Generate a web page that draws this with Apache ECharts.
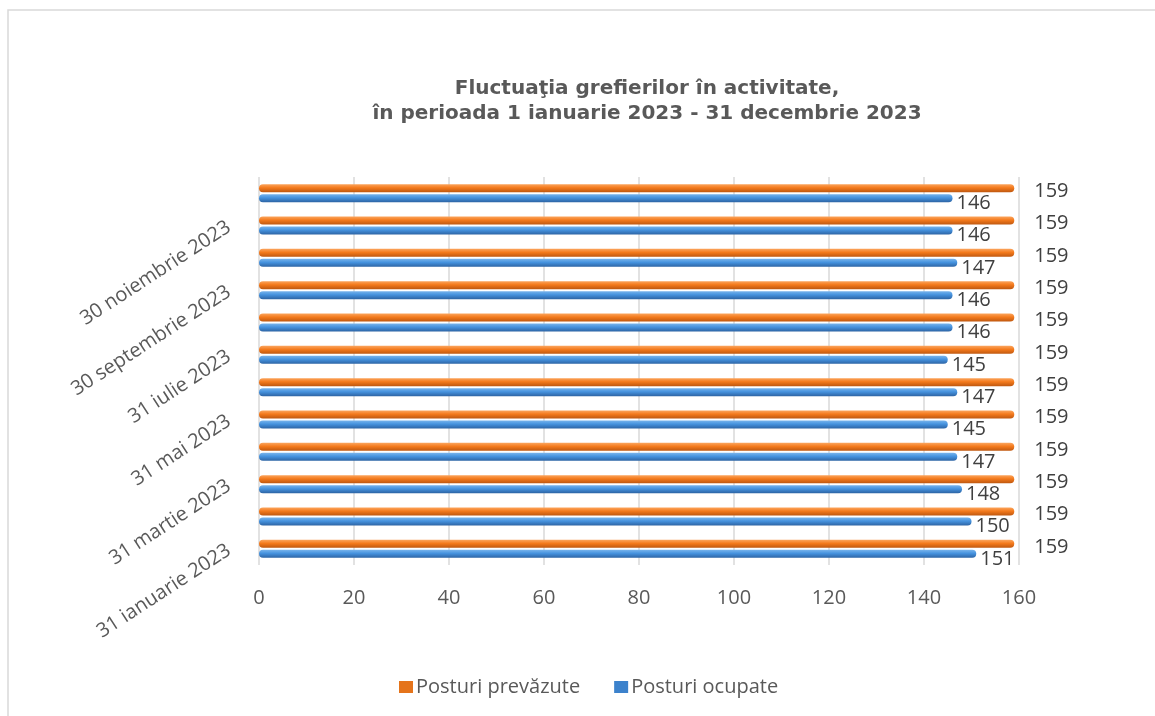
<!DOCTYPE html>
<html>
<head>
<meta charset="utf-8">
<script src="https://cdn.jsdelivr.net/npm/echarts@6/dist/echarts.min.js"></script>
<style>
html,body{margin:0;padding:0;background:#fff;}
#c{width:1155px;height:716px;}
</style>
</head>
<body>
<div id="c"></div>
<script>
const categories = ["31 ianuarie 2023","28 februarie 2023","31 martie 2023","30 aprilie 2023","31 mai 2023","30 iunie 2023","31 iulie 2023","31 august 2023","30 septembrie 2023","31 octombrie 2023","30 noiembrie 2023","31 decembrie 2023"];
const posturiOcupate = [151,150,148,147,145,147,145,146,146,147,146,146];
const posturiPrevazute = [159,159,159,159,159,159,159,159,159,159,159,159];
const xTicks = {min:0, max:160, interval:20};
const titleLines = ["Fluctuaţia grefierilor în activitate,", "în perioada 1 ianuarie 2023 - 31 decembrie 2023"];
const seriesNames = ["Posturi prevăzute", "Posturi ocupate"];

const chart = echarts.init(document.getElementById('c'));
const orangeGrad = new echarts.graphic.LinearGradient(0,0,0,1,[
  {offset:0,color:'#FBA55E'},{offset:0.45,color:'#F47A1C'},{offset:1,color:'#BF5810'}]);
const blueGrad = new echarts.graphic.LinearGradient(0,0,0,1,[
  {offset:0,color:'#78B4EC'},{offset:0.45,color:'#4592DE'},{offset:1,color:'#2D64A4'}]);
const txt = '#595959';
chart.setOption({
  animation:false,
  backgroundColor:'#fff',
  graphic:[{type:'rect',shape:{x:8,y:10,width:1300,height:900},style:{fill:'none',stroke:'#d9d9d9',lineWidth:1.5},silent:true}],
  title:{
    text:titleLines.join('\n'),
    left:642, top:71, textAlign:'center',
    textStyle:{fontFamily:'DejaVu Sans',fontWeight:'bold',fontSize:20,color:txt,lineHeight:25}
  },
  legend:{
    data:[{name:seriesNames[0],itemStyle:{color:'#E5741B'}},{name:seriesNames[1],itemStyle:{color:'#3C82CC'}}],
    left:394, top:672, itemWidth:14, itemHeight:12, itemGap:34,
    icon:'rect',
    textStyle:{fontFamily:'Open Sans',fontSize:20,color:txt,padding:[0,0,0,-2]}
  },
  grid:{left:259,right:136,top:177,bottom:151,containLabel:false},
  xAxis:{
    type:'value', min:xTicks.min, max:xTicks.max, interval:xTicks.interval,
    axisLine:{show:false}, axisTick:{show:false},
    axisLabel:{fontFamily:'Open Sans',fontSize:20,color:txt,margin:23},
    splitLine:{lineStyle:{color:'#d9d9d9',width:1.5}}
  },
  yAxis:{
    type:'category', data:categories,
    axisLine:{show:false}, axisTick:{show:false},
    axisLabel:{interval:1,rotate:33,fontFamily:'Open Sans',fontSize:20,color:txt,margin:30}
  },
  series:[
    {name:seriesNames[0],type:'bar',data:posturiPrevazute,barWidth:8,barGap:'25%',
     itemStyle:{color:orangeGrad,borderRadius:4},
     label:{show:true,position:'right',distance:20,offset:[0,3],fontFamily:'Open Sans',fontSize:20,color:'#404040'}},
    {name:seriesNames[1],type:'bar',data:posturiOcupate,barWidth:8,
     itemStyle:{color:blueGrad,borderRadius:4},
     label:{show:true,position:'right',distance:4,offset:[0,5],fontFamily:'Open Sans',fontSize:20,color:'#404040'}}
  ]
});
</script>
</body>
</html>
